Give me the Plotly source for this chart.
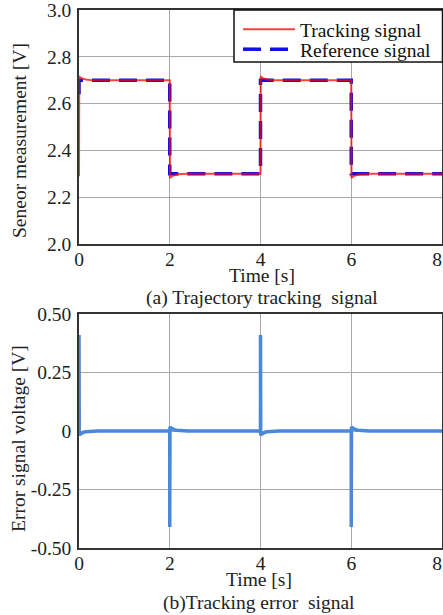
import plotly.graph_objects as go
from plotly.subplots import make_subplots

# ---------------- data ----------------
t_track = [0.0, 0.005, 0.02, 0.05, 0.1, 0.15, 0.25, 0.4, 2.0,
           2.005, 2.02, 2.05, 2.1, 2.15, 2.25, 2.4, 4.0,
           4.005, 4.02, 4.05, 4.1, 4.15, 4.25, 4.4, 6.0,
           6.005, 6.02, 6.05, 6.1, 6.15, 6.25, 6.4, 8.0]
y_track = [2.29, 2.717, 2.714, 2.709, 2.705, 2.703, 2.701, 2.700, 2.700,
           2.282, 2.285, 2.290, 2.295, 2.297, 2.299, 2.300, 2.300,
           2.717, 2.714, 2.709, 2.705, 2.703, 2.701, 2.700, 2.700,
           2.282, 2.285, 2.290, 2.295, 2.297, 2.299, 2.300, 2.300]

t_ref = [0.0, 0.0, 2.0, 2.0, 4.0, 4.0, 6.0, 6.0, 8.0]
y_ref = [2.64, 2.70, 2.70, 2.30, 2.30, 2.70, 2.70, 2.30, 2.30]

t_err = [0.0, 0.0, 0.005, 0.02, 0.05, 0.1, 0.15, 0.25, 0.4, 2.0,
         2.0, 2.005, 2.02, 2.05, 2.1, 2.15, 2.25, 2.4, 4.0,
         4.0, 4.005, 4.02, 4.05, 4.1, 4.15, 4.25, 4.4, 6.0,
         6.0, 6.005, 6.02, 6.05, 6.1, 6.15, 6.25, 6.4, 8.0]
y_err = [0.0, 0.41, -0.018, -0.014, -0.009, -0.005, -0.003, -0.001, 0.0, 0.0,
         -0.41, 0.018, 0.014, 0.009, 0.005, 0.003, 0.001, 0.0, 0.0,
         0.41, -0.018, -0.014, -0.009, -0.005, -0.003, -0.001, 0.0, 0.0,
         -0.41, 0.018, 0.014, 0.009, 0.005, 0.003, 0.001, 0.0, 0.0]

x_ticks = [0, 2, 4, 6, 8]
x_labels = ["0", "2", "4", "6", "8\u00a0\u00a0"]
y1_ticks = [2.0, 2.2, 2.4, 2.6, 2.8, 3.0]
y1_labels = ["2.0", "2.2", "2.4", "2.6", "2.8", "3.0"]
y2_ticks = [-0.5, -0.25, 0, 0.25, 0.5]
y2_labels = ["-0.50", "-0.25", "0", "0.25", "0.50"]

# ---------------- layout helpers ----------------
W, H = 443, 615
ML, MR, MT, MB = 79, 1, 10, 67
PW = W - ML - MR
PH = H - MT - MB


def px_x(px):
    return (px - ML) / PW


def px_y(py):
    return (H - MB - py) / PH


FONT = "Liberation Serif"
FS = 19.5
TXT = "#222222"
GRID = "#a8a8a8"

fig = make_subplots(rows=2, cols=1, vertical_spacing=0.0)

fig.add_trace(go.Scatter(x=t_ref, y=y_ref, mode="lines", name="Reference signal",
                         line=dict(color="#1010e0", width=3.5, dash="18px,9px"),
                         legend="legend2"), row=1, col=1)
fig.add_trace(go.Scatter(x=t_track, y=y_track, mode="lines", name="Tracking signal",
                         line=dict(color="rgba(255,0,0,0.75)", width=2),
                         legend="legend"), row=1, col=1)
fig.add_trace(go.Scatter(x=t_err, y=y_err, mode="lines", name="Error",
                         line=dict(color="#4a88d8", width=3.5),
                         showlegend=False), row=2, col=1)

axis_common = dict(showgrid=True, gridcolor=GRID, gridwidth=1, zeroline=False,
                   showline=True, linecolor="#333333", linewidth=1.5, mirror=True,
                   ticks="", automargin=False, ticklabeloverflow="allow",
                   tickfont=dict(family=FONT, size=FS, color=TXT))

leg_common = dict(xanchor="left", yanchor="top", bgcolor="rgba(0,0,0,0)", borderwidth=0,
                  font=dict(family=FONT, size=FS, color="#111111"),
                  tracegroupgap=0, itemwidth=52)

fig.update_layout(
    width=W, height=H,
    margin=dict(l=ML, r=MR, t=MT, b=MB, autoexpand=False),
    paper_bgcolor="white", plot_bgcolor="white",
    font=dict(family=FONT, size=FS, color=TXT),
    xaxis=dict(domain=[0, 1], range=[0, 8], tickvals=x_ticks, ticktext=x_labels,
               anchor="y", ticklabelstandoff=-3, **axis_common),
    yaxis=dict(domain=[px_y(244), 1], range=[2.0, 3.0], tickvals=y1_ticks,
               ticktext=y1_labels, anchor="x", ticklabelstandoff=2, **axis_common),
    xaxis2=dict(domain=[0, 1], range=[0, 8], tickvals=x_ticks, ticktext=x_labels,
                anchor="y2", ticklabelstandoff=-3, **axis_common),
    yaxis2=dict(domain=[0, px_y(314)], range=[-0.5, 0.5], tickvals=y2_ticks,
                ticktext=y2_labels, anchor="x2", ticklabelstandoff=2, **axis_common),
    legend=dict(x=px_x(238), y=px_y(10), **leg_common),
    legend2=dict(x=px_x(238), y=px_y(30), **leg_common),
    showlegend=True,
)

# legend frame
fig.add_shape(type="rect", xref="paper", yref="paper",
              x0=px_x(234), x1=px_x(442.5), y0=px_y(62), y1=px_y(10),
              fillcolor="white", line=dict(color="#111111", width=1.5), layer="above")

annots = [
    ("Seneor measurement [V]", 20, 141, -90),
    ("Time [s]", 262, 275, 0),
    ("(a) Trajectory tracking  signal", 262, 298, 0),
    ("Error signal voltage [V]", 18, 439, -90),
    ("Time [s]", 259, 579, 0),
    ("(b)Tracking error  signal", 259, 603, 0),
]
for text, ax_, ay_, ang in annots:
    fig.add_annotation(text=text.replace("  ", "&nbsp; "), x=px_x(ax_), y=px_y(ay_),
                       xref="paper", yref="paper", xanchor="center", yanchor="middle",
                       showarrow=False, textangle=ang,
                       font=dict(family=FONT, size=FS, color=TXT))

fig.write_html("out.html", config={"displayModeBar": False},
               post_script="document.body.style.margin='0';document.body.style.overflow='hidden';")
